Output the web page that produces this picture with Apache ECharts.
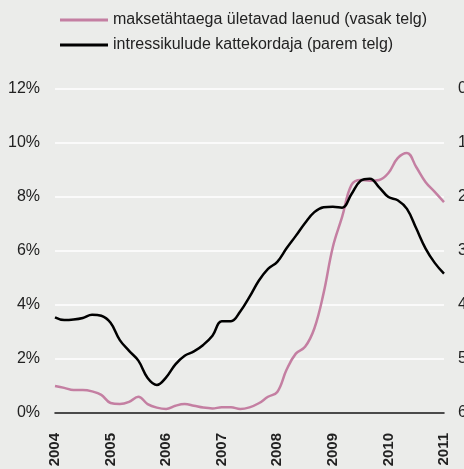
<!DOCTYPE html>
<html>
<head>
<meta charset="utf-8">
<script src="https://cdn.jsdelivr.net/npm/echarts@6/dist/echarts.min.js"></script>
<style>
  html, body { margin: 0; padding: 0; background: #ebecea; }
  #chart { width: 464px; height: 469px; }
</style>
</head>
<body>
<div id="chart"></div>
<script>
// kahekuulised vaatlused 2004-01 ... 2011-01
const years = ['2004', '2005', '2006', '2007', '2008', '2009', '2010'];
const months = ['01', '03', '05', '07', '09', '11'];
const categories = [];
years.forEach(y => months.forEach(m => categories.push(y + '-' + m)));
categories.push('2011-01');

// vasak telg, %
const overdueLoans = [
  1.0, 0.93, 0.85, 0.85, 0.8, 0.67,
  0.37, 0.33, 0.41, 0.6, 0.33, 0.2,
  0.15, 0.27, 0.33, 0.27, 0.2, 0.17,
  0.21, 0.21, 0.15, 0.21, 0.36, 0.6,
  0.78, 1.6, 2.2, 2.45, 3.13, 4.44,
  6.15, 7.26, 8.44, 8.63, 8.6, 8.63,
  8.89, 9.44, 9.63, 9.11, 8.56, 8.19,
  7.81
];

// parem telg (pööratud)
const coverRatio = [
  4.23, 4.28, 4.27, 4.24, 4.18, 4.2,
  4.33, 4.65, 4.85, 5.03, 5.35, 5.48,
  5.34, 5.1, 4.94, 4.86, 4.74, 4.57,
  4.3, 4.3, 4.12, 3.85, 3.55, 3.33,
  3.2, 2.95, 2.72, 2.48, 2.28, 2.19,
  2.18, 2.2, 1.95, 1.7, 1.66, 1.82,
  2.0, 2.06, 2.22, 2.58, 2.95, 3.22,
  3.42
];

const seriesNames = [
  'maksetähtaega ületavad laenud (vasak telg)',
  'intressikulude kattekordaja (parem telg)'
];

const chart = echarts.init(document.getElementById('chart'));
const font = 'Liberation Sans, Arial, sans-serif';

chart.setOption({
  backgroundColor: '#ebecea',
  animation: false,
  textStyle: { fontFamily: font },
  legend: {
    orient: 'vertical',
    left: 60,
    top: 12,
    padding: 0,
    icon: 'rect',
    itemWidth: 48,
    itemHeight: 3,
    itemGap: 9,
    textStyle: { fontSize: 16, color: '#222', fontFamily: font },
    data: seriesNames
  },
  grid: { left: 55, right: 20, top: 89, bottom: 56, outerBoundsMode: 'none', containLabel: false },
  xAxis: {
    type: 'category',
    data: categories,
    boundaryGap: false,
    axisLine: { onZero: false, lineStyle: { color: '#111', width: 1.5 } },
    axisTick: { show: false },
    axisLabel: {
      rotate: 90,
      margin: 20,
      fontSize: 15,
      fontWeight: 'bold',
      color: '#222',
      interval: 0,
      formatter: v => v.endsWith('-01') ? v.slice(0, 4) : ''
    },
    splitLine: { show: false }
  },
  yAxis: [
    {
      type: 'value',
      min: 0,
      max: 12,
      interval: 2,
      axisLine: { show: false },
      axisTick: { show: false },
      axisLabel: { formatter: '{value}%', fontSize: 16, color: '#222', margin: 15 },
      splitLine: { lineStyle: { color: '#ffffff', width: 1.5 } }
    },
    {
      type: 'value',
      min: 0,
      max: 6,
      interval: 1,
      inverse: true,
      axisLine: { show: false },
      axisTick: { show: false },
      axisLabel: { fontSize: 16, color: '#222', margin: 14 },
      splitLine: { show: false }
    }
  ],
  series: [
    {
      name: seriesNames[0],
      type: 'line',
      yAxisIndex: 0,
      data: overdueLoans,
      smooth: 0.4,
      symbol: 'none',
      itemStyle: { color: '#c47fa2' },
      lineStyle: { color: '#c47fa2', width: 2.5 }
    },
    {
      name: seriesNames[1],
      type: 'line',
      yAxisIndex: 1,
      data: coverRatio,
      smooth: 0.4,
      symbol: 'none',
      itemStyle: { color: '#000' },
      lineStyle: { color: '#000', width: 2.5 }
    }
  ]
});
</script>
</body>
</html>
